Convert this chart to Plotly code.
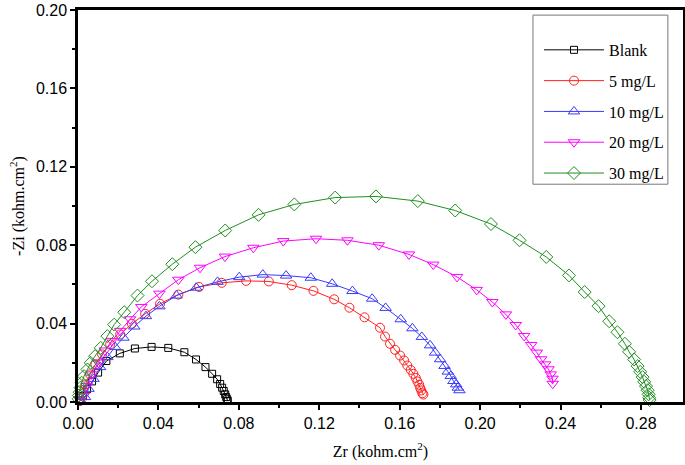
import plotly.graph_objects as go

names = ["Blank", "5 mg/L", "10 mg/L", "20 mg/L", "30 mg/L"]

blank_x = [0.0010, 0.0025, 0.0045, 0.0070, 0.0100, 0.0141, 0.0208, 0.0283, 0.0366, 0.0449,
           0.0529, 0.0587, 0.0634, 0.0667, 0.0692, 0.0707, 0.0717, 0.0725, 0.0732, 0.0737,
           0.0742, 0.0745]
blank_y = [0.0005, 0.0030, 0.0065, 0.0105, 0.0150, 0.0209, 0.0248, 0.0273, 0.0281, 0.0276,
           0.0254, 0.0217, 0.0178, 0.0144, 0.0116, 0.0092, 0.0073, 0.0056, 0.0039, 0.0025,
           0.0014, 0.0005]

c5_x = [0.0010, 0.0020, 0.0037, 0.0060, 0.0087, 0.0120, 0.0160, 0.0210, 0.0268, 0.0334,
        0.0408, 0.0499, 0.0602, 0.0715, 0.0836, 0.0949, 0.1063, 0.1171, 0.1274, 0.1350,
        0.1425, 0.1502, 0.1527, 0.1552, 0.1577, 0.1602, 0.1622, 0.1638, 0.1655, 0.1668,
        0.1680, 0.1688, 0.1697, 0.1702, 0.1707, 0.1713, 0.1718]
c5_y = [0.0005, 0.0040, 0.0090, 0.0141, 0.0192, 0.0243, 0.0294, 0.0345, 0.0399, 0.0450,
        0.0501, 0.0548, 0.0587, 0.0608, 0.0618, 0.0615, 0.0596, 0.0567, 0.0524, 0.0481,
        0.0432, 0.0379, 0.0334, 0.0297, 0.0266, 0.0237, 0.0212, 0.0186, 0.0164, 0.0144,
        0.0123, 0.0105, 0.0088, 0.0072, 0.0059, 0.0045, 0.0038]

c10_x = [0.0015, 0.0035, 0.0052, 0.0077, 0.0110, 0.0146, 0.0184, 0.0226, 0.0280, 0.0338,
         0.0405, 0.0490, 0.0588, 0.0694, 0.0802, 0.0919, 0.1035, 0.1158, 0.1264, 0.1365,
         0.1463, 0.1530, 0.1605, 0.1663, 0.1710, 0.1751, 0.1776, 0.1801, 0.1823, 0.1839,
         0.1854, 0.1867, 0.1881, 0.1889, 0.1897]
c10_y = [0.0005, 0.0025, 0.0067, 0.0118, 0.0178, 0.0229, 0.0281, 0.0328, 0.0385, 0.0438,
         0.0488, 0.0543, 0.0583, 0.0613, 0.0637, 0.0650, 0.0645, 0.0634, 0.0603, 0.0566,
         0.0527, 0.0480, 0.0422, 0.0376, 0.0332, 0.0289, 0.0252, 0.0218, 0.0184, 0.0155,
         0.0133, 0.0107, 0.0090, 0.0073, 0.0060]

c20_x = [0.0012, 0.0027, 0.0043, 0.0068, 0.0101, 0.0134, 0.0168, 0.0209, 0.0259, 0.0315,
         0.0405, 0.0499, 0.0607, 0.0731, 0.0872, 0.1021, 0.1184, 0.1340, 0.1496, 0.1646,
         0.1767, 0.1885, 0.1983, 0.2061, 0.2128, 0.2177, 0.2219, 0.2254, 0.2282, 0.2303,
         0.2323, 0.2340, 0.2351, 0.2360, 0.2361]
c20_y = [0.0005, 0.0030, 0.0082, 0.0141, 0.0201, 0.0263, 0.0312, 0.0363, 0.0422, 0.0485,
         0.0553, 0.0624, 0.0685, 0.0742, 0.0787, 0.0821, 0.0833, 0.0825, 0.0800, 0.0753,
         0.0701, 0.0638, 0.0572, 0.0510, 0.0447, 0.0393, 0.0337, 0.0291, 0.0252, 0.0218,
         0.0192, 0.0167, 0.0141, 0.0119, 0.0093]

c30_x = [0.0003, 0.0005, 0.0008, 0.0012, 0.0018, 0.0030, 0.0047, 0.0063, 0.0085, 0.0113,
         0.0146, 0.0180, 0.0230, 0.0296, 0.0368, 0.0469, 0.0584, 0.0732, 0.0898, 0.1076,
         0.1279, 0.1482, 0.1690, 0.1876, 0.2054, 0.2196, 0.2329, 0.2442, 0.2520, 0.2589,
         0.2642, 0.2683, 0.2720, 0.2741, 0.2766, 0.2783, 0.2796, 0.2808, 0.2816, 0.2825,
         0.2833, 0.2838, 0.2841, 0.2843]
c30_y = [0.0016, 0.0033, 0.0050, 0.0073, 0.0098, 0.0132, 0.0166, 0.0200, 0.0234, 0.0276,
         0.0336, 0.0395, 0.0458, 0.0543, 0.0616, 0.0703, 0.0790, 0.0875, 0.0955, 0.1008,
         0.1043, 0.1049, 0.1025, 0.0977, 0.0908, 0.0825, 0.0740, 0.0646, 0.0561, 0.0489,
         0.0412, 0.0356, 0.0297, 0.0256, 0.0217, 0.0183, 0.0154, 0.0127, 0.0103, 0.0081,
         0.0060, 0.0039, 0.0022, 0.0010]

x_ticks = [0.00, 0.04, 0.08, 0.12, 0.16, 0.20, 0.24, 0.28]
y_ticks = [0.00, 0.04, 0.08, 0.12, 0.16, 0.20]
x_minor = [0.02, 0.06, 0.10, 0.14, 0.18, 0.22, 0.26]
y_minor = [0.02, 0.06, 0.10, 0.14, 0.18]

series = [
    (names[0], blank_x, blank_y, "#000000", "square-open", 7),
    (names[1], c5_x, c5_y, "#ff2020", "circle-open", 9),
    (names[2], c10_x, c10_y, "#3a3aff", "triangle-up-open", 10),
    (names[3], c20_x, c20_y, "#ff00ff", "triangle-down-open", 10),
    (names[4], c30_x, c30_y, "#1f8f1f", "diamond-open", 10),
]

fig = go.Figure()
for i, (nm, xs, ys, col, sym, sz) in enumerate(series):
    fig.add_trace(go.Scatter(
        x=xs, y=ys, name=nm, mode="lines+markers",
        line=dict(color=col, width=1),
        marker=dict(symbol=sym, size=sz, color=col, line=dict(color=col, width=1)),
        cliponaxis=False, legendgroup=f"g{i}",
    ))

tickfont = dict(family="Liberation Sans, Arial, sans-serif", size=16, color="#000")
titlefont = dict(family="Liberation Serif, Times New Roman, serif", size=16, color="#000")

# legend frame
fig.add_shape(type="rect", xref="paper", yref="paper",
              x0=0.752, x1=0.975, y0=0.5556, y1=0.987,
              line=dict(color="#777777", width=1), fillcolor="white", layer="above")

fig.update_layout(
    width=685, height=465,
    margin=dict(l=78, r=2, t=10, b=63),
    paper_bgcolor="white", plot_bgcolor="white",
    showlegend=True,
    legend=dict(
        x=0.762, y=0.9415, xanchor="left", yanchor="top",
        borderwidth=0, bgcolor="rgba(0,0,0,0)",
        font=dict(family="Liberation Serif, Times New Roman, serif", size=16, color="#000"),
        tracegroupgap=7, traceorder="grouped", itemwidth=60,
    ),
    xaxis=dict(
        range=[0, 0.3009], tickvals=x_ticks, ticktext=[f"{v:.2f}" for v in x_ticks],
        ticks="outside", ticklen=5, tickwidth=2, tickcolor="#000",
        showline=True, mirror=True, linecolor="#000", linewidth=2.5,
        showgrid=False, zeroline=False, automargin=False,
        tickfont=tickfont,
        minor=dict(tickvals=x_minor, ticks="outside",
                   ticklen=3, tickwidth=2, tickcolor="#000", showgrid=False),
        title=dict(text="Zr (kohm.cm<sup>2</sup>)", font=titlefont, standoff=15),
    ),
    yaxis=dict(
        range=[0, 0.20], tickvals=y_ticks, ticktext=[f"{v:.2f}" for v in y_ticks],
        ticks="outside", ticklen=5, tickwidth=2, tickcolor="#000",
        showline=True, mirror=True, linecolor="#000", linewidth=2.5,
        showgrid=False, zeroline=False, automargin=False,
        tickfont=tickfont,
        minor=dict(tickvals=y_minor, ticks="outside",
                   ticklen=3, tickwidth=2, tickcolor="#000", showgrid=False),
        title=dict(text="-Zi (kohm.cm<sup>2</sup>)", font=titlefont, standoff=8),
    ),
)

fig.write_html("out.html", config={"displayModeBar": False},
               post_script="document.body.style.margin='0px';")
